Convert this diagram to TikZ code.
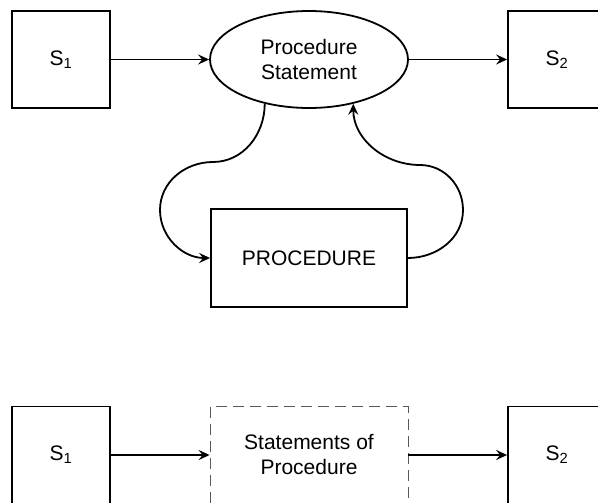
\documentclass[tikz,border=0pt]{standalone}
\usepackage{fontspec}
\setmainfont{Liberation Sans}
\usetikzlibrary{shapes.geometric,arrows.meta}

\begin{document}
\begin{tikzpicture}[x=1pt, y=-1pt,
	font=\fontsize{21}{25}\selectfont,
	box/.style={draw, line width=1.8pt, rectangle, inner sep=0pt, minimum width=98pt, minimum height=97pt},
	flow/.style={line width=1.8pt, -{Stealth[length=11pt, width=10pt, inset=4pt]}}]
	\useasboundingbox (0, 0) rectangle (598, 503);
	% oben: Aufruf der Prozedur
	\node[box] (s1top) at (61, 59.5) {S\textsubscript{1}};
	\node[draw, line width=1.8pt, ellipse, inner sep=0pt, minimum width=198pt, minimum height=97pt, align=center] (stmt) at (309, 59.5) {Procedure\\Statement};
	\node[box] (s2top) at (557, 59.5) {S\textsubscript{2}};
	\node[box, minimum width=196pt, minimum height=98pt] (proc) at (309, 258) {PROCEDURE};
	\draw[flow](s1top) -- (stmt);
	\draw[flow](stmt) -- (s2top);
	\draw[flow](stmt.225) to[out=-90, in=0] (213, 162) to[out=180, in=90] (160, 210) to[out=-90, in=180] (proc.west);
	\draw[flow](proc.east) to[out=0, in=-90] (463, 210) to[out=90, in=0] (420, 165) to[out=180, in=-90] (stmt.-45);
	% unten: eingesetzte Anweisungen
	\node[box] (s1bot) at (61, 455) {S\textsubscript{1}};
	\node[box, minimum width=198pt, draw=black!65, line width=0.8pt, dash pattern=on 11pt off 6pt, align=center] (body) at (309, 455) {Statements of\\Procedure};
	\node[box] (s2bot) at (557, 455) {S\textsubscript{2}};
	\draw[flow](s1bot) -- (body);
	\draw[flow](body) -- (s2bot);
\end{tikzpicture}
\end{document}
